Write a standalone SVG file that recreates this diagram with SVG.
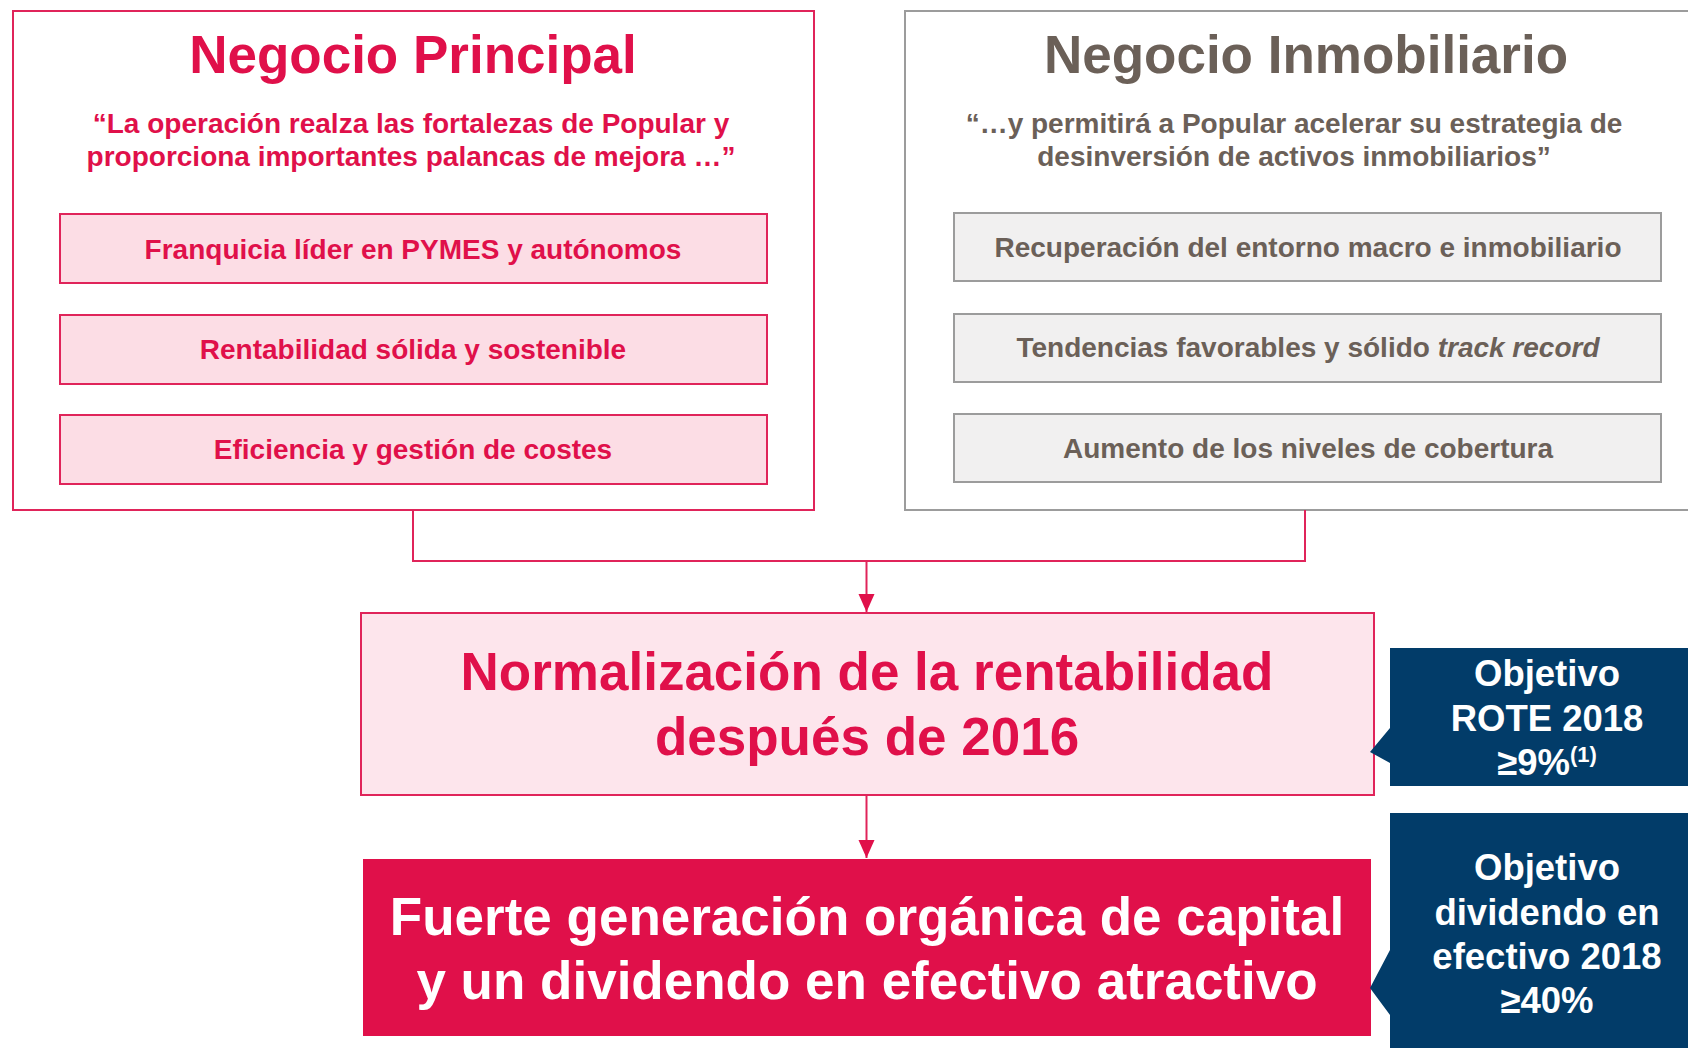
<svg xmlns="http://www.w3.org/2000/svg" width="1688" height="1048" viewBox="0 0 1688 1048">
<defs>
<style>
text{font-family:"Liberation Sans",Arial,sans-serif;font-weight:bold;text-anchor:middle}
.red{fill:#E0104A}
.grey{fill:#6B6058}
.white{fill:#FFFFFF}
.t1{font-size:53px}
.q{font-size:28px}
.b{font-size:28px}
.c{font-size:36.5px}
.pinkbox{fill:#FCDDE5;stroke:#E0245A;stroke-width:2}
.greybox{fill:#F1F0F0;stroke:#9C9C9C;stroke-width:2}
.conn{fill:none;stroke:#E0245A;stroke-width:2}
</style>
<marker id="arr" markerUnits="userSpaceOnUse" markerWidth="18" markerHeight="18" viewBox="0 0 18 18" refX="18" refY="9" orient="auto">
<path d="M0,1 L18,9 L0,17 Z" fill="#E0104A"/>
</marker>
</defs>
<rect width="1688" height="1048" fill="#FFFFFF"/>

<g id="principal">
<rect x="13" y="11" width="801" height="499" fill="#FFFFFF" stroke="#E0245A" stroke-width="2"/>
<text class="red t1" x="413" y="73">Negocio Principal</text>
<text class="red q" x="411" y="133">“La operación realza las fortalezas de Popular y</text>
<text class="red q" x="411" y="166">proporciona importantes palancas de mejora …”</text>
</g>
<g id="p1"><rect class="pinkbox" x="60" y="214" width="707" height="69"/><text class="red b" x="413" y="259">Franquicia líder en PYMES y autónomos</text></g>
<g id="p2"><rect class="pinkbox" x="60" y="315" width="707" height="69"/><text class="red b" x="413" y="359">Rentabilidad sólida y sostenible</text></g>
<g id="p3"><rect class="pinkbox" x="60" y="415" width="707" height="69"/><text class="red b" x="413" y="459">Eficiencia y gestión de costes</text></g>

<g id="inmobiliario">
<rect x="905" y="11" width="800" height="499" fill="#FFFFFF" stroke="#9C9C9C" stroke-width="2"/>
<text class="grey t1" x="1306" y="73">Negocio Inmobiliario</text>
<text class="grey q" x="1294" y="133">“…y permitirá a Popular acelerar su estrategia de</text>
<text class="grey q" x="1294" y="166">desinversión de activos inmobiliarios”</text>
</g>
<g id="i1"><rect class="greybox" x="954" y="213" width="707" height="68"/><text class="grey b" x="1308" y="257">Recuperación del entorno macro e inmobiliario</text></g>
<g id="i2"><rect class="greybox" x="954" y="314" width="707" height="68"/><text class="grey b" x="1308" y="357">Tendencias favorables y sólido <tspan font-style="italic">track record</tspan></text></g>
<g id="i3"><rect class="greybox" x="954" y="414" width="707" height="68"/><text class="grey b" x="1308" y="458">Aumento de los niveles de cobertura</text></g>

<g id="connectors">
<path class="conn" d="M413,510 V561 H1305 V510"/>
<path class="conn" d="M866.5,561 V612" marker-end="url(#arr)"/>
<path class="conn" d="M866.5,795 V858" marker-end="url(#arr)"/>
</g>

<g id="normalizacion">
<rect x="361" y="613" width="1013" height="182" fill="#FDE5EC" stroke="#E0245A" stroke-width="2"/>
<text class="red t1" x="867" y="690">Normalización de la rentabilidad</text>
<text class="red t1" x="867" y="755">después de 2016</text>
</g>

<g id="capital">
<rect x="363" y="859" width="1008" height="177" fill="#E0104A"/>
<text class="white t1" x="867" y="935">Fuerte generación orgánica de capital</text>
<text class="white t1" x="867" y="999">y un dividendo en efectivo atractivo</text>
</g>

<g id="objetivo-rote">
<path d="M1390,648 H1700 V786 H1390 V763 L1370,752 L1390,728 Z" fill="#023C69"/>
<text class="white c" x="1547" y="686">Objetivo</text>
<text class="white c" x="1547" y="731">ROTE 2018</text>
<text class="white c" x="1547" y="775">≥9%<tspan font-size="22" dy="-13">(1)</tspan></text>
</g>

<g id="objetivo-dividendo">
<path d="M1390,813 H1700 V1060 H1390 V1015 L1370,988 L1390,950 Z" fill="#023C69"/>
<text class="white c" x="1547" y="880">Objetivo</text>
<text class="white c" x="1547" y="925">dividendo en</text>
<text class="white c" x="1547" y="969">efectivo 2018</text>
<text class="white c" x="1547" y="1013">≥40%</text>
</g>
</svg>
